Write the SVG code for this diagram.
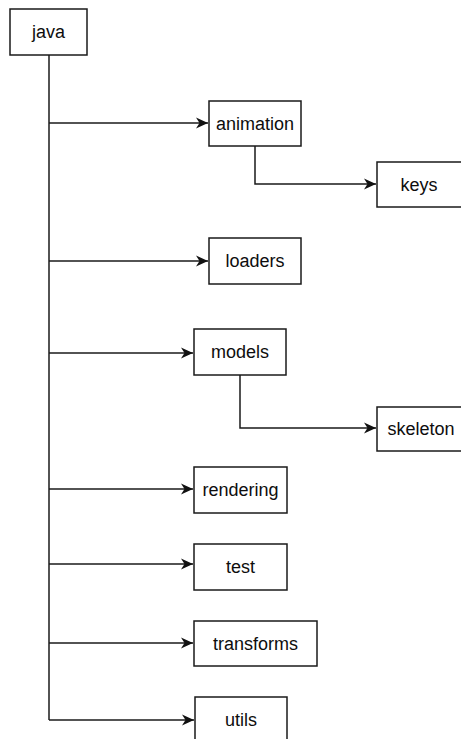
<svg xmlns="http://www.w3.org/2000/svg" width="461" height="739" viewBox="0 0 461 739">
  <style>
    .box { fill: #ffffff; stroke: #1a1a1a; stroke-width: 1.5; }
    .lbl { font-family: "Liberation Sans", Arial, sans-serif; font-size: 18px; fill: #0d0d0d; text-anchor: middle; dominant-baseline: central; }
    .wire { fill: none; stroke: #1a1a1a; stroke-width: 1.5; }
  </style>
  <defs>
    <marker id="arrow" viewBox="0 0 14 12" refX="13" refY="6" markerWidth="14" markerHeight="12" markerUnits="userSpaceOnUse" orient="auto">
      <path d="M13 6 L1 0.5 L4.5 6 L1 11.5 Z" fill="#111111"/>
    </marker>
  </defs>
  <rect width="461" height="739" fill="#ffffff"/>

  <g id="connectors">
    <path class="wire" d="M49 55 V720"/>
    <path class="wire" d="M49 123 H208" marker-end="url(#arrow)"/>
    <path class="wire" d="M49 261 H208" marker-end="url(#arrow)"/>
    <path class="wire" d="M49 353 H193" marker-end="url(#arrow)"/>
    <path class="wire" d="M49 489 H193" marker-end="url(#arrow)"/>
    <path class="wire" d="M49 564 H193" marker-end="url(#arrow)"/>
    <path class="wire" d="M49 643 H193" marker-end="url(#arrow)"/>
    <path class="wire" d="M49 720 H194" marker-end="url(#arrow)"/>
    <path class="wire" d="M255 146 V184 H376" marker-end="url(#arrow)"/>
    <path class="wire" d="M240 375 V428 H376" marker-end="url(#arrow)"/>
  </g>

  <g id="java">
    <rect class="box" x="10" y="9" width="77" height="46"/>
    <text class="lbl" x="48.5" y="32">java</text>
  </g>
  <g id="animation">
    <rect class="box" x="209" y="101" width="92" height="45"/>
    <text class="lbl" x="255" y="123.5">animation</text>
  </g>
  <g id="keys">
    <rect class="box" x="377" y="162" width="100" height="45"/>
    <text class="lbl" x="419" y="184.5">keys</text>
  </g>
  <g id="loaders">
    <rect class="box" x="209" y="238" width="92" height="46"/>
    <text class="lbl" x="255" y="261">loaders</text>
  </g>
  <g id="models">
    <rect class="box" x="194" y="329" width="92" height="46"/>
    <text class="lbl" x="240" y="352">models</text>
  </g>
  <g id="skeleton">
    <rect class="box" x="377" y="407" width="100" height="44"/>
    <text class="lbl" x="421" y="429">skeleton</text>
  </g>
  <g id="rendering">
    <rect class="box" x="194" y="467" width="93" height="46"/>
    <text class="lbl" x="240.5" y="490">rendering</text>
  </g>
  <g id="test">
    <rect class="box" x="194" y="544" width="93" height="46"/>
    <text class="lbl" x="240.5" y="567">test</text>
  </g>
  <g id="transforms">
    <rect class="box" x="194" y="621" width="123" height="45"/>
    <text class="lbl" x="255.5" y="643.5">transforms</text>
  </g>
  <g id="utils">
    <rect class="box" x="195" y="697" width="92" height="50"/>
    <text class="lbl" x="241" y="720">utils</text>
  </g>
</svg>
